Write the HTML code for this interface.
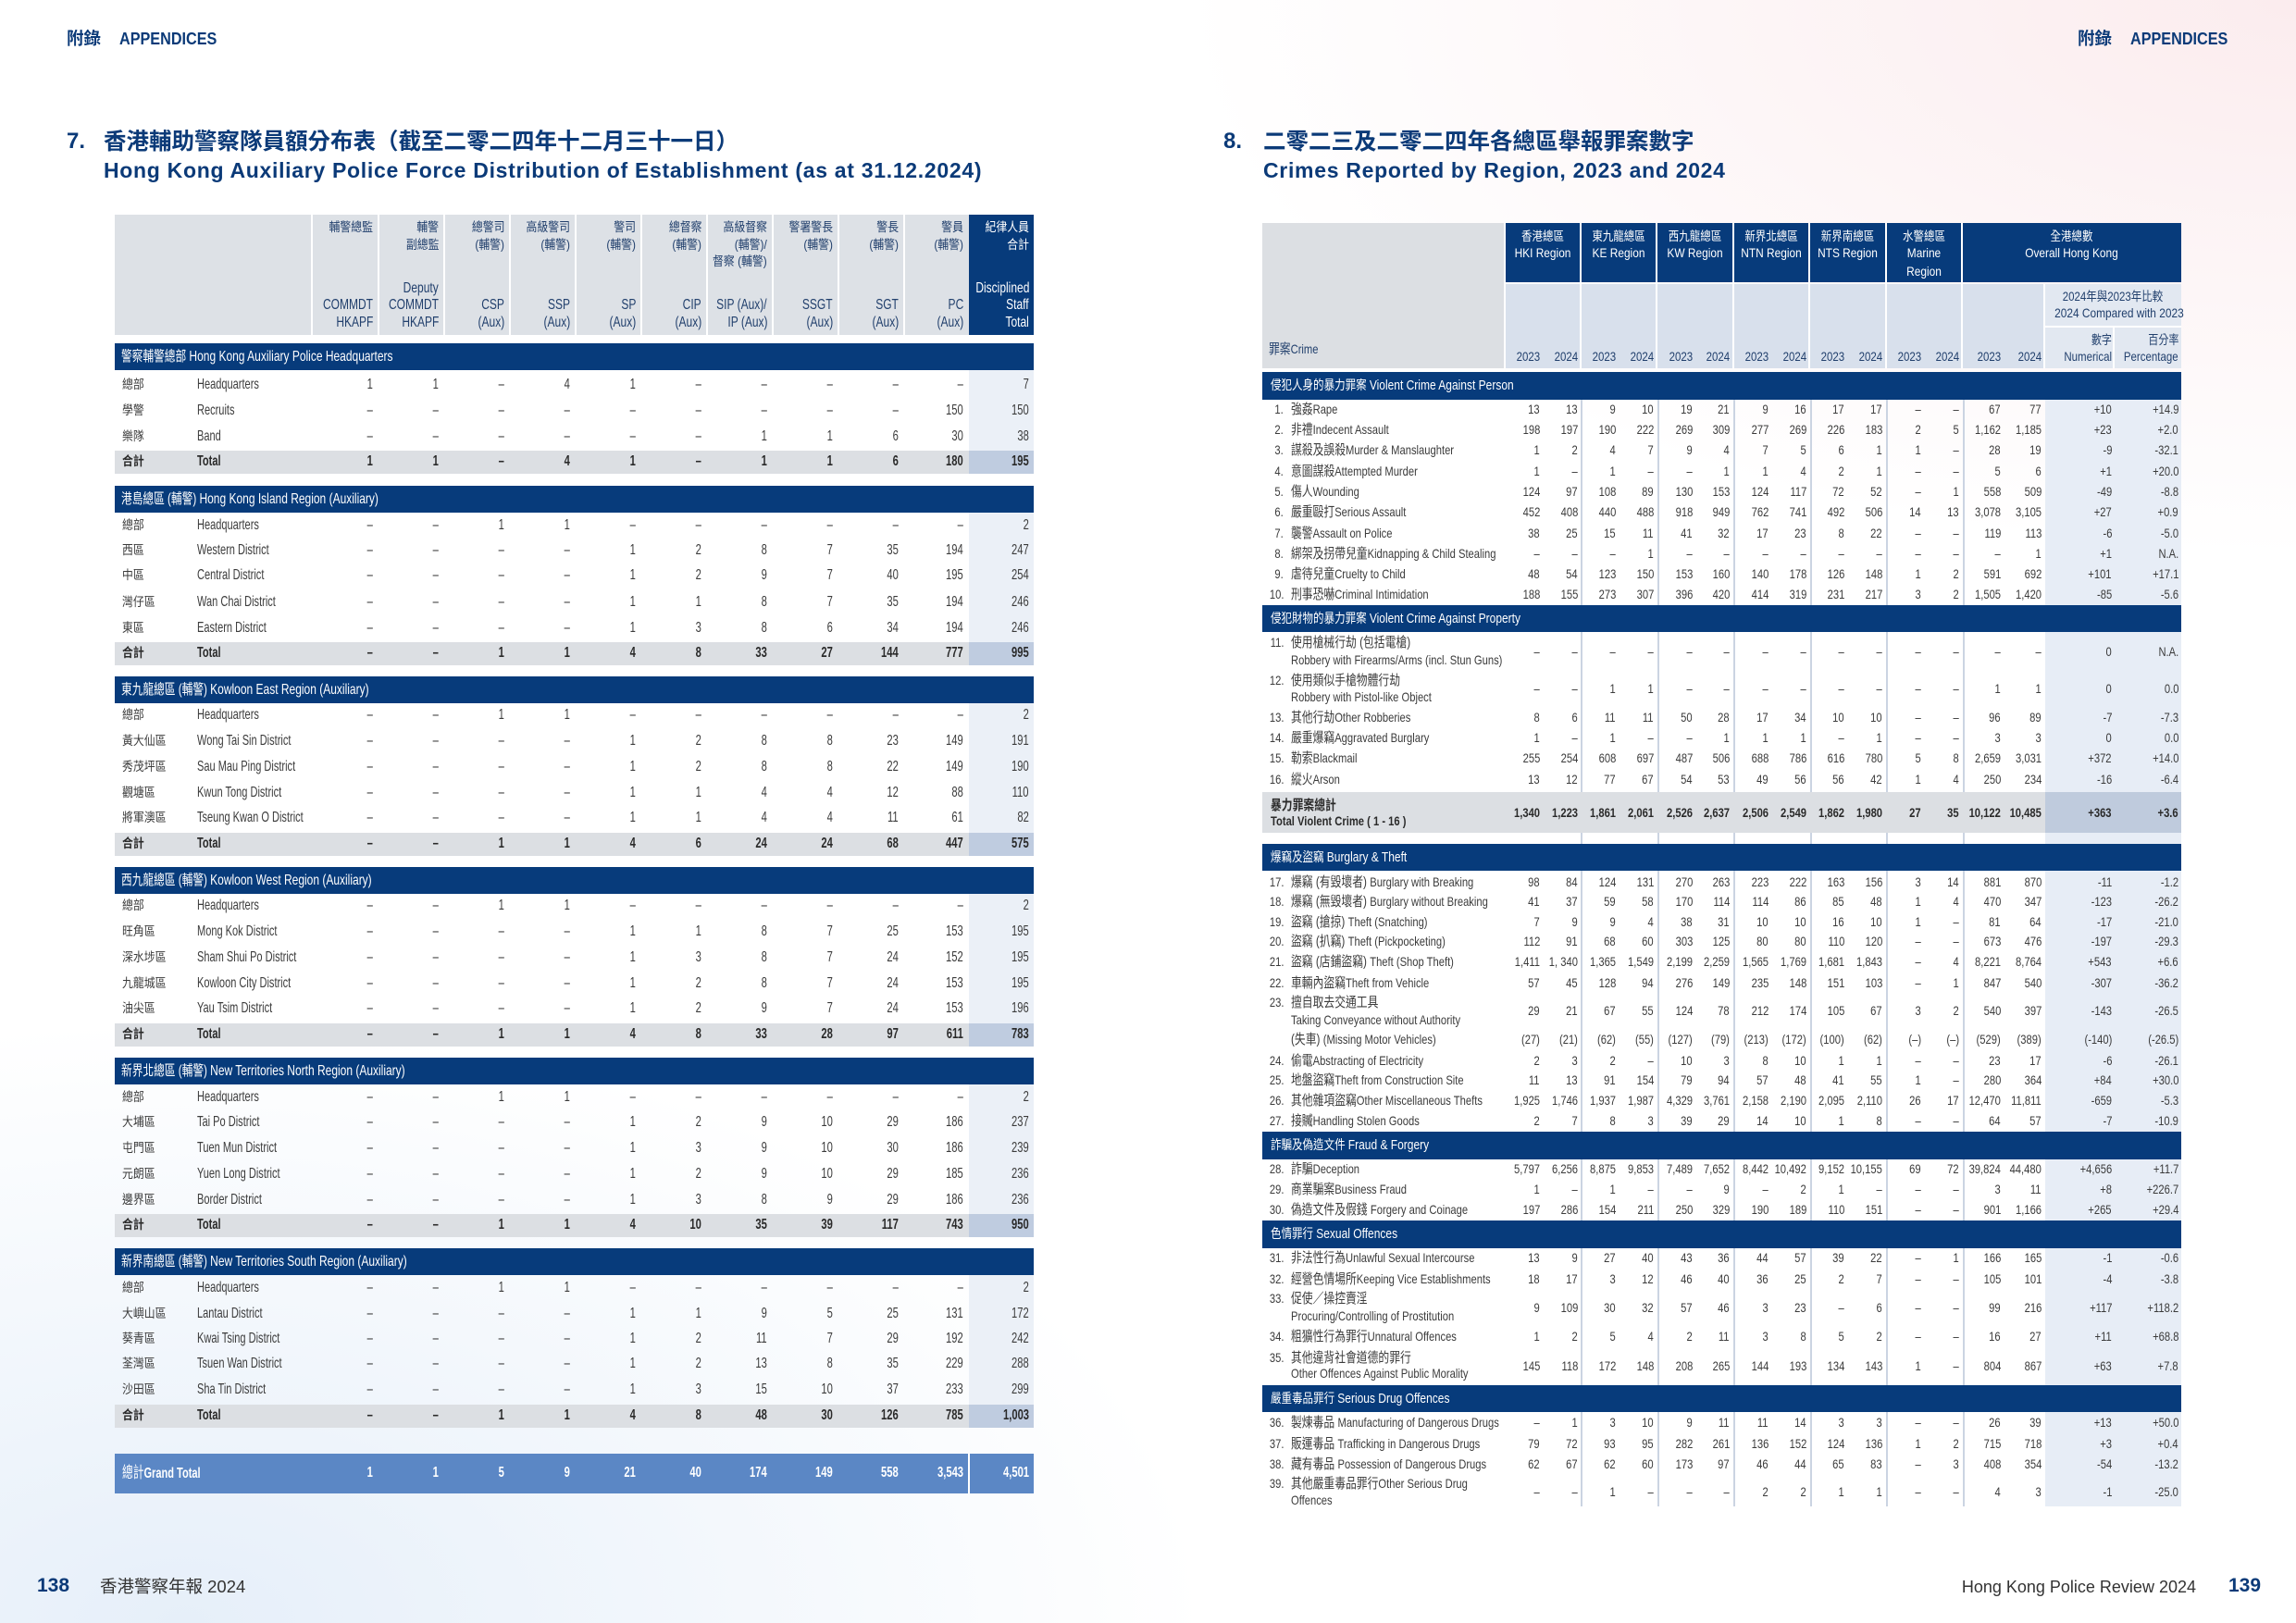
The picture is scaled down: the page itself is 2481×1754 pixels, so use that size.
<!DOCTYPE html>
<html><head><meta charset="utf-8"><style>
*{margin:0;padding:0;box-sizing:border-box}
html,body{width:2481px;height:1754px}
body{position:relative;overflow:hidden;font-family:"Liberation Sans","Noto Sans CJK TC",sans-serif;color:#3b3b3b;background:radial-gradient(ellipse 1100px 650px at 200px 1754px,#e6eff9,rgba(255,255,255,0)),radial-gradient(ellipse 1200px 600px at 2481px 0,#fbecee,rgba(255,255,255,0)),#fff}
.x{position:absolute}
.nv{background:#073b7b}
.r{position:absolute;left:0;width:2481px;height:20px;line-height:20px}
.r>*{position:absolute;top:0;white-space:nowrap}
i{font-style:normal}
.t>*{font-weight:700;color:#2a2a2a}
.n1{right:2078px}.n2{right:2007px}.n3{right:1936px}.n4{right:1865px}.n5{right:1794px}.n6{right:1723px}.n7{right:1652px}.n8{right:1581px}.n9{right:1510px}.n10{right:1440px}.n11{right:1369px}
.n1,.n2,.n3,.n4,.n5,.n6,.n7,.n8,.n9,.n10,.n11{font-size:16px;transform:scaleX(.7);transform-origin:100% 50%}
.m1{right:817px}.m2{right:776px}.m3{right:735px}.m4{right:694px}.m5{right:652px}.m6{right:612px}.m7{right:570px}.m8{right:529px}.m9{right:488px}.m10{right:447px}.m11{right:405px}.m12{right:364px}.m13{right:319px}.m14{right:275px}.m15{right:199px}.m16{right:127px}
.m1,.m2,.m3,.m4,.m5,.m6,.m7,.m8,.m9,.m10,.m11,.m12,.m13,.m14,.m15,.m16{font-size:14px;transform:scaleX(.8);transform-origin:100% 50%}
.hz{font-size:13.5px;transform:scaleX(.88);color:#22406d}
.he{font-size:16px;transform:scaleX(.75);color:#22406d}
.y{transform:scaleX(.82);color:#22406d}
.w{color:#fff}
.lz{left:132px;font-size:13.5px;transform:scaleX(.88);transform-origin:0 50%}
.le{left:213px;font-size:16px;transform:scaleX(.69);transform-origin:0 50%}
.bl{left:131px;color:#fff;font-size:16px;transform:scaleX(.75);transform-origin:0 50%}
.bl i{font-size:15.6px}
.br{left:1373px;color:#fff;font-size:15px;transform:scaleX(.8);transform-origin:0 50%}
.br i{font-size:14.4px}
.lb{left:1395px;font-size:14px;transform:scaleX(.8);transform-origin:0 50%}
.lb i{font-size:14.75px}
.no{right:1094px;font-size:14px;transform:scaleX(.8);transform-origin:100% 50%}
.hc{color:#fff;font-size:14px;text-align:center;transform:scaleX(.85);transform-origin:50% 50%}
.hc i{font-size:13.5px}
.hk{color:#22406d}
.g>*{color:#fff;font-weight:700}
.tt{position:absolute;white-space:nowrap;color:#0b3a78;font-weight:700;line-height:30px}
.ft{position:absolute;white-space:nowrap;line-height:24px}
</style></head><body>

<!-- page headers -->
<div class="ft" style="left:72px;top:30px;font-size:18.5px;font-weight:700;color:#0b3a78">附錄</div>
<div class="ft" style="left:129px;top:30px;font-size:18px;font-weight:700;color:#0b3a78;transform:scaleX(.9);transform-origin:0 50%">APPENDICES</div>
<div class="ft" style="left:2245px;top:30px;font-size:18.5px;font-weight:700;color:#0b3a78">附錄</div>
<div class="ft" style="left:2302px;top:30px;font-size:18px;font-weight:700;color:#0b3a78;transform:scaleX(.9);transform-origin:0 50%">APPENDICES</div>

<!-- titles -->
<div class="tt" style="left:72px;top:138px;font-size:24px">7.</div>
<div class="tt" style="left:112px;top:139px;font-size:24.5px">香港輔助警察隊員額分布表（截至二零二四年十二月三十一日）</div>
<div class="tt" style="left:112px;top:169px;font-size:23px;letter-spacing:.7px">Hong Kong Auxiliary Police Force Distribution of Establishment (as at 31.12.2024)</div>
<div class="tt" style="left:1322px;top:138px;font-size:24px">8.</div>
<div class="tt" style="left:1365px;top:139px;font-size:24.5px">二零二三及二零二四年各總區舉報罪案數字</div>
<div class="tt" style="left:1365px;top:169px;font-size:23px;letter-spacing:.7px">Crimes Reported by Region, 2023 and 2024</div>

<!-- LEFT TABLE BOXES -->
<div class="x" style="left:124px;top:232px;width:923px;height:130px;background:#dde1e6"></div>
<div class="x nv" style="left:1047px;top:232px;width:70px;height:130px"></div>
<div class="x" style="left:336px;top:232px;width:2px;height:130px;background:#fff"></div>
<div class="x" style="left:408px;top:232px;width:2px;height:130px;background:#fff"></div>
<div class="x" style="left:479px;top:232px;width:2px;height:130px;background:#fff"></div>
<div class="x" style="left:550px;top:232px;width:2px;height:130px;background:#fff"></div>
<div class="x" style="left:621px;top:232px;width:2px;height:130px;background:#fff"></div>
<div class="x" style="left:692px;top:232px;width:2px;height:130px;background:#fff"></div>
<div class="x" style="left:763px;top:232px;width:2px;height:130px;background:#fff"></div>
<div class="x" style="left:834px;top:232px;width:2px;height:130px;background:#fff"></div>
<div class="x" style="left:905px;top:232px;width:2px;height:130px;background:#fff"></div>
<div class="x" style="left:976px;top:232px;width:2px;height:130px;background:#fff"></div>

<div class="x nv" style="left:124px;top:371px;width:993px;height:29px"></div>
<div class="x" style="left:1047px;top:400px;width:70px;height:87px;background:#ebf0f7"></div>
<div class="x" style="left:124px;top:487px;width:923px;height:25px;background:#dcdfe3"></div>
<div class="x" style="left:1047px;top:487px;width:70px;height:25px;background:#bfcce0"></div>

<div class="x nv" style="left:124px;top:525px;width:993px;height:29px"></div>
<div class="x" style="left:1047px;top:554px;width:70px;height:140px;background:#ebf0f7"></div>
<div class="x" style="left:124px;top:694px;width:923px;height:25px;background:#dcdfe3"></div>
<div class="x" style="left:1047px;top:694px;width:70px;height:25px;background:#bfcce0"></div>

<div class="x nv" style="left:124px;top:731px;width:993px;height:29px"></div>
<div class="x" style="left:1047px;top:760px;width:70px;height:140px;background:#ebf0f7"></div>
<div class="x" style="left:124px;top:900px;width:923px;height:25px;background:#dcdfe3"></div>
<div class="x" style="left:1047px;top:900px;width:70px;height:25px;background:#bfcce0"></div>

<div class="x nv" style="left:124px;top:937px;width:993px;height:29px"></div>
<div class="x" style="left:1047px;top:966px;width:70px;height:140px;background:#ebf0f7"></div>
<div class="x" style="left:124px;top:1106px;width:923px;height:25px;background:#dcdfe3"></div>
<div class="x" style="left:1047px;top:1106px;width:70px;height:25px;background:#bfcce0"></div>

<div class="x nv" style="left:124px;top:1143px;width:993px;height:29px"></div>
<div class="x" style="left:1047px;top:1172px;width:70px;height:140px;background:#ebf0f7"></div>
<div class="x" style="left:124px;top:1312px;width:923px;height:25px;background:#dcdfe3"></div>
<div class="x" style="left:1047px;top:1312px;width:70px;height:25px;background:#bfcce0"></div>

<div class="x nv" style="left:124px;top:1349px;width:993px;height:29px"></div>
<div class="x" style="left:1047px;top:1378px;width:70px;height:140px;background:#ebf0f7"></div>
<div class="x" style="left:124px;top:1518px;width:923px;height:25px;background:#dcdfe3"></div>
<div class="x" style="left:1047px;top:1518px;width:70px;height:25px;background:#bfcce0"></div>

<div class="x" style="left:124px;top:1571px;width:993px;height:43px;background:#5b87c5"></div>
<div class="x" style="left:1046px;top:1571px;width:2px;height:43px;background:#fff"></div>

<!-- LEFT HEADER TEXT -->
<div class="r" style="top:236px"><span class="n1 hz">輔警總監</span><span class="n2 hz">輔警</span><span class="n3 hz">總警司</span><span class="n4 hz">高級警司</span><span class="n5 hz">警司</span><span class="n6 hz">總督察</span><span class="n7 hz">高級督察</span><span class="n8 hz">警署警長</span><span class="n9 hz">警長</span><span class="n10 hz">警員</span><span class="n11 hz w">紀律人員</span></div>
<div class="r" style="top:255px"><span class="n2 hz">副總監</span><span class="n3 hz">(輔警)</span><span class="n4 hz">(輔警)</span><span class="n5 hz">(輔警)</span><span class="n6 hz">(輔警)</span><span class="n7 hz">(輔警)/</span><span class="n8 hz">(輔警)</span><span class="n9 hz">(輔警)</span><span class="n10 hz">(輔警)</span><span class="n11 hz w">合計</span></div>
<div class="r" style="top:273px"><span class="n7 hz">督察 (輔警)</span></div>
<div class="r" style="top:302px"><span class="n2 he">Deputy</span><span class="n11 he w">Disciplined</span></div>
<div class="r" style="top:320px"><span class="n1 he">COMMDT</span><span class="n2 he">COMMDT</span><span class="n3 he">CSP</span><span class="n4 he">SSP</span><span class="n5 he">SP</span><span class="n6 he">CIP</span><span class="n7 he">SIP (Aux)/</span><span class="n8 he">SSGT</span><span class="n9 he">SGT</span><span class="n10 he">PC</span><span class="n11 he w">Staff</span></div>
<div class="r" style="top:339px"><span class="n1 he">HKAPF</span><span class="n2 he">HKAPF</span><span class="n3 he">(Aux)</span><span class="n4 he">(Aux)</span><span class="n5 he">(Aux)</span><span class="n6 he">(Aux)</span><span class="n7 he">IP (Aux)</span><span class="n8 he">(Aux)</span><span class="n9 he">(Aux)</span><span class="n10 he">(Aux)</span><span class="n11 he w">Total</span></div>

<!-- LEFT BODY -->
<div class="r" style="top:375.5px"><span class="bl"><i>警察輔警總部 </i>Hong Kong Auxiliary Police Headquarters</span></div>
<div class="r" style="top:406px"><span class="lz">總部</span><span class="le">Headquarters</span><span class="n1">1</span><span class="n2">1</span><span class="n3">–</span><span class="n4">4</span><span class="n5">1</span><span class="n6">–</span><span class="n7">–</span><span class="n8">–</span><span class="n9">–</span><span class="n10">–</span><span class="n11">7</span></div>
<div class="r" style="top:434px"><span class="lz">學警</span><span class="le">Recruits</span><span class="n1">–</span><span class="n2">–</span><span class="n3">–</span><span class="n4">–</span><span class="n5">–</span><span class="n6">–</span><span class="n7">–</span><span class="n8">–</span><span class="n9">–</span><span class="n10">150</span><span class="n11">150</span></div>
<div class="r" style="top:462px"><span class="lz">樂隊</span><span class="le">Band</span><span class="n1">–</span><span class="n2">–</span><span class="n3">–</span><span class="n4">–</span><span class="n5">–</span><span class="n6">–</span><span class="n7">1</span><span class="n8">1</span><span class="n9">6</span><span class="n10">30</span><span class="n11">38</span></div>
<div class="r t" style="top:489px"><span class="lz">合計</span><span class="le">Total</span><span class="n1">1</span><span class="n2">1</span><span class="n3">–</span><span class="n4">4</span><span class="n5">1</span><span class="n6">–</span><span class="n7">1</span><span class="n8">1</span><span class="n9">6</span><span class="n10">180</span><span class="n11">195</span></div>

<div class="r" style="top:529.5px"><span class="bl"><i>港島總區 (輔警) </i>Hong Kong Island Region (Auxiliary)</span></div>
<div class="r" style="top:558px"><span class="lz">總部</span><span class="le">Headquarters</span><span class="n1">–</span><span class="n2">–</span><span class="n3">1</span><span class="n4">1</span><span class="n5">–</span><span class="n6">–</span><span class="n7">–</span><span class="n8">–</span><span class="n9">–</span><span class="n10">–</span><span class="n11">2</span></div>
<div class="r" style="top:585px"><span class="lz">西區</span><span class="le">Western District</span><span class="n1">–</span><span class="n2">–</span><span class="n3">–</span><span class="n4">–</span><span class="n5">1</span><span class="n6">2</span><span class="n7">8</span><span class="n8">7</span><span class="n9">35</span><span class="n10">194</span><span class="n11">247</span></div>
<div class="r" style="top:612px"><span class="lz">中區</span><span class="le">Central District</span><span class="n1">–</span><span class="n2">–</span><span class="n3">–</span><span class="n4">–</span><span class="n5">1</span><span class="n6">2</span><span class="n7">9</span><span class="n8">7</span><span class="n9">40</span><span class="n10">195</span><span class="n11">254</span></div>
<div class="r" style="top:641px"><span class="lz">灣仔區</span><span class="le">Wan Chai District</span><span class="n1">–</span><span class="n2">–</span><span class="n3">–</span><span class="n4">–</span><span class="n5">1</span><span class="n6">1</span><span class="n7">8</span><span class="n8">7</span><span class="n9">35</span><span class="n10">194</span><span class="n11">246</span></div>
<div class="r" style="top:669px"><span class="lz">東區</span><span class="le">Eastern District</span><span class="n1">–</span><span class="n2">–</span><span class="n3">–</span><span class="n4">–</span><span class="n5">1</span><span class="n6">3</span><span class="n7">8</span><span class="n8">6</span><span class="n9">34</span><span class="n10">194</span><span class="n11">246</span></div>
<div class="r t" style="top:696px"><span class="lz">合計</span><span class="le">Total</span><span class="n1">–</span><span class="n2">–</span><span class="n3">1</span><span class="n4">1</span><span class="n5">4</span><span class="n6">8</span><span class="n7">33</span><span class="n8">27</span><span class="n9">144</span><span class="n10">777</span><span class="n11">995</span></div>

<div class="r" style="top:735.5px"><span class="bl"><i>東九龍總區 (輔警) </i>Kowloon East Region (Auxiliary)</span></div>
<div class="r" style="top:763px"><span class="lz">總部</span><span class="le">Headquarters</span><span class="n1">–</span><span class="n2">–</span><span class="n3">1</span><span class="n4">1</span><span class="n5">–</span><span class="n6">–</span><span class="n7">–</span><span class="n8">–</span><span class="n9">–</span><span class="n10">–</span><span class="n11">2</span></div>
<div class="r" style="top:791px"><span class="lz">黃大仙區</span><span class="le">Wong Tai Sin District</span><span class="n1">–</span><span class="n2">–</span><span class="n3">–</span><span class="n4">–</span><span class="n5">1</span><span class="n6">2</span><span class="n7">8</span><span class="n8">8</span><span class="n9">23</span><span class="n10">149</span><span class="n11">191</span></div>
<div class="r" style="top:819px"><span class="lz">秀茂坪區</span><span class="le">Sau Mau Ping District</span><span class="n1">–</span><span class="n2">–</span><span class="n3">–</span><span class="n4">–</span><span class="n5">1</span><span class="n6">2</span><span class="n7">8</span><span class="n8">8</span><span class="n9">22</span><span class="n10">149</span><span class="n11">190</span></div>
<div class="r" style="top:847px"><span class="lz">觀塘區</span><span class="le">Kwun Tong District</span><span class="n1">–</span><span class="n2">–</span><span class="n3">–</span><span class="n4">–</span><span class="n5">1</span><span class="n6">1</span><span class="n7">4</span><span class="n8">4</span><span class="n9">12</span><span class="n10">88</span><span class="n11">110</span></div>
<div class="r" style="top:874px"><span class="lz">將軍澳區</span><span class="le">Tseung Kwan O District</span><span class="n1">–</span><span class="n2">–</span><span class="n3">–</span><span class="n4">–</span><span class="n5">1</span><span class="n6">1</span><span class="n7">4</span><span class="n8">4</span><span class="n9">11</span><span class="n10">61</span><span class="n11">82</span></div>
<div class="r t" style="top:902px"><span class="lz">合計</span><span class="le">Total</span><span class="n1">–</span><span class="n2">–</span><span class="n3">1</span><span class="n4">1</span><span class="n5">4</span><span class="n6">6</span><span class="n7">24</span><span class="n8">24</span><span class="n9">68</span><span class="n10">447</span><span class="n11">575</span></div>

<div class="r" style="top:941.5px"><span class="bl"><i>西九龍總區 (輔警) </i>Kowloon West Region (Auxiliary)</span></div>
<div class="r" style="top:969px"><span class="lz">總部</span><span class="le">Headquarters</span><span class="n1">–</span><span class="n2">–</span><span class="n3">1</span><span class="n4">1</span><span class="n5">–</span><span class="n6">–</span><span class="n7">–</span><span class="n8">–</span><span class="n9">–</span><span class="n10">–</span><span class="n11">2</span></div>
<div class="r" style="top:997px"><span class="lz">旺角區</span><span class="le">Mong Kok District</span><span class="n1">–</span><span class="n2">–</span><span class="n3">–</span><span class="n4">–</span><span class="n5">1</span><span class="n6">1</span><span class="n7">8</span><span class="n8">7</span><span class="n9">25</span><span class="n10">153</span><span class="n11">195</span></div>
<div class="r" style="top:1025px"><span class="lz">深水埗區</span><span class="le">Sham Shui Po District</span><span class="n1">–</span><span class="n2">–</span><span class="n3">–</span><span class="n4">–</span><span class="n5">1</span><span class="n6">3</span><span class="n7">8</span><span class="n8">7</span><span class="n9">24</span><span class="n10">152</span><span class="n11">195</span></div>
<div class="r" style="top:1053px"><span class="lz">九龍城區</span><span class="le">Kowloon City District</span><span class="n1">–</span><span class="n2">–</span><span class="n3">–</span><span class="n4">–</span><span class="n5">1</span><span class="n6">2</span><span class="n7">8</span><span class="n8">7</span><span class="n9">24</span><span class="n10">153</span><span class="n11">195</span></div>
<div class="r" style="top:1080px"><span class="lz">油尖區</span><span class="le">Yau Tsim District</span><span class="n1">–</span><span class="n2">–</span><span class="n3">–</span><span class="n4">–</span><span class="n5">1</span><span class="n6">2</span><span class="n7">9</span><span class="n8">7</span><span class="n9">24</span><span class="n10">153</span><span class="n11">196</span></div>
<div class="r t" style="top:1108px"><span class="lz">合計</span><span class="le">Total</span><span class="n1">–</span><span class="n2">–</span><span class="n3">1</span><span class="n4">1</span><span class="n5">4</span><span class="n6">8</span><span class="n7">33</span><span class="n8">28</span><span class="n9">97</span><span class="n10">611</span><span class="n11">783</span></div>

<div class="r" style="top:1147.5px"><span class="bl"><i>新界北總區 (輔警) </i>New Territories North Region (Auxiliary)</span></div>
<div class="r" style="top:1176px"><span class="lz">總部</span><span class="le">Headquarters</span><span class="n1">–</span><span class="n2">–</span><span class="n3">1</span><span class="n4">1</span><span class="n5">–</span><span class="n6">–</span><span class="n7">–</span><span class="n8">–</span><span class="n9">–</span><span class="n10">–</span><span class="n11">2</span></div>
<div class="r" style="top:1203px"><span class="lz">大埔區</span><span class="le">Tai Po District</span><span class="n1">–</span><span class="n2">–</span><span class="n3">–</span><span class="n4">–</span><span class="n5">1</span><span class="n6">2</span><span class="n7">9</span><span class="n8">10</span><span class="n9">29</span><span class="n10">186</span><span class="n11">237</span></div>
<div class="r" style="top:1231px"><span class="lz">屯門區</span><span class="le">Tuen Mun District</span><span class="n1">–</span><span class="n2">–</span><span class="n3">–</span><span class="n4">–</span><span class="n5">1</span><span class="n6">3</span><span class="n7">9</span><span class="n8">10</span><span class="n9">30</span><span class="n10">186</span><span class="n11">239</span></div>
<div class="r" style="top:1259px"><span class="lz">元朗區</span><span class="le">Yuen Long District</span><span class="n1">–</span><span class="n2">–</span><span class="n3">–</span><span class="n4">–</span><span class="n5">1</span><span class="n6">2</span><span class="n7">9</span><span class="n8">10</span><span class="n9">29</span><span class="n10">185</span><span class="n11">236</span></div>
<div class="r" style="top:1287px"><span class="lz">邊界區</span><span class="le">Border District</span><span class="n1">–</span><span class="n2">–</span><span class="n3">–</span><span class="n4">–</span><span class="n5">1</span><span class="n6">3</span><span class="n7">8</span><span class="n8">9</span><span class="n9">29</span><span class="n10">186</span><span class="n11">236</span></div>
<div class="r t" style="top:1314px"><span class="lz">合計</span><span class="le">Total</span><span class="n1">–</span><span class="n2">–</span><span class="n3">1</span><span class="n4">1</span><span class="n5">4</span><span class="n6">10</span><span class="n7">35</span><span class="n8">39</span><span class="n9">117</span><span class="n10">743</span><span class="n11">950</span></div>

<div class="r" style="top:1353.5px"><span class="bl"><i>新界南總區 (輔警) </i>New Territories South Region (Auxiliary)</span></div>
<div class="r" style="top:1382px"><span class="lz">總部</span><span class="le">Headquarters</span><span class="n1">–</span><span class="n2">–</span><span class="n3">1</span><span class="n4">1</span><span class="n5">–</span><span class="n6">–</span><span class="n7">–</span><span class="n8">–</span><span class="n9">–</span><span class="n10">–</span><span class="n11">2</span></div>
<div class="r" style="top:1410px"><span class="lz">大嶼山區</span><span class="le">Lantau District</span><span class="n1">–</span><span class="n2">–</span><span class="n3">–</span><span class="n4">–</span><span class="n5">1</span><span class="n6">1</span><span class="n7">9</span><span class="n8">5</span><span class="n9">25</span><span class="n10">131</span><span class="n11">172</span></div>
<div class="r" style="top:1437px"><span class="lz">葵青區</span><span class="le">Kwai Tsing District</span><span class="n1">–</span><span class="n2">–</span><span class="n3">–</span><span class="n4">–</span><span class="n5">1</span><span class="n6">2</span><span class="n7">11</span><span class="n8">7</span><span class="n9">29</span><span class="n10">192</span><span class="n11">242</span></div>
<div class="r" style="top:1464px"><span class="lz">荃灣區</span><span class="le">Tsuen Wan District</span><span class="n1">–</span><span class="n2">–</span><span class="n3">–</span><span class="n4">–</span><span class="n5">1</span><span class="n6">2</span><span class="n7">13</span><span class="n8">8</span><span class="n9">35</span><span class="n10">229</span><span class="n11">288</span></div>
<div class="r" style="top:1492px"><span class="lz">沙田區</span><span class="le">Sha Tin District</span><span class="n1">–</span><span class="n2">–</span><span class="n3">–</span><span class="n4">–</span><span class="n5">1</span><span class="n6">3</span><span class="n7">15</span><span class="n8">10</span><span class="n9">37</span><span class="n10">233</span><span class="n11">299</span></div>
<div class="r t" style="top:1520px"><span class="lz">合計</span><span class="le">Total</span><span class="n1">–</span><span class="n2">–</span><span class="n3">1</span><span class="n4">1</span><span class="n5">4</span><span class="n6">8</span><span class="n7">48</span><span class="n8">30</span><span class="n9">126</span><span class="n10">785</span><span class="n11">1,003</span></div>

<div class="r g" style="top:1582px"><span class="le" style="left:132px"><i style="font-size:17px;font-weight:400">總計</i>Grand Total</span><span class="n1">1</span><span class="n2">1</span><span class="n3">5</span><span class="n4">9</span><span class="n5">21</span><span class="n6">40</span><span class="n7">174</span><span class="n8">149</span><span class="n9">558</span><span class="n10">3,543</span><span class="n11">4,501</span></div>

<!-- RIGHT TABLE BOXES -->
<div class="x" style="left:1364px;top:241px;width:262px;height:157px;background:#dcdfe3"></div>
<div class="x nv" style="left:1626px;top:241px;width:731px;height:64px"></div>
<div class="x" style="left:1626px;top:307px;width:731px;height:91px;background:#d8e0ec"></div>
<div class="x" style="left:2209px;top:307px;width:148px;height:91px;background:#e2e8f1"></div>
<div class="x" style="left:1625px;top:241px;width:2px;height:157px;background:#fff"></div>
<div class="x" style="left:1707px;top:241px;width:2px;height:157px;background:#fff"></div>
<div class="x" style="left:1789px;top:241px;width:2px;height:157px;background:#fff"></div>
<div class="x" style="left:1872px;top:241px;width:2px;height:157px;background:#fff"></div>
<div class="x" style="left:1954px;top:241px;width:2px;height:157px;background:#fff"></div>
<div class="x" style="left:2037px;top:241px;width:2px;height:157px;background:#fff"></div>
<div class="x" style="left:2119px;top:241px;width:2px;height:157px;background:#fff"></div>
<div class="x" style="left:2208px;top:307px;width:2px;height:91px;background:#fff"></div>
<div class="x" style="left:2283px;top:353px;width:2px;height:45px;background:#fff"></div>
<div class="x" style="left:2209px;top:352px;width:148px;height:2px;background:#fff"></div>

<div class="x" style="left:2210px;top:432px;width:147px;height:1196px;background:#e7edf6"></div>
<div class="x" style="left:1708px;top:432px;width:1.5px;height:1196px;background:#cbd4e2"></div>
<div class="x" style="left:1791px;top:432px;width:1.5px;height:1196px;background:#cbd4e2"></div>
<div class="x" style="left:1873px;top:432px;width:1.5px;height:1196px;background:#cbd4e2"></div>
<div class="x" style="left:1956px;top:432px;width:1.5px;height:1196px;background:#cbd4e2"></div>
<div class="x" style="left:2038px;top:432px;width:1.5px;height:1196px;background:#cbd4e2"></div>
<div class="x" style="left:2121px;top:432px;width:1.5px;height:1196px;background:#cbd4e2"></div>
<div class="x" style="left:1364px;top:856px;width:846px;height:44px;background:#dcdfe3"></div>
<div class="x" style="left:2210px;top:856px;width:147px;height:44px;background:#bfcbdd"></div>

<div class="x nv" style="left:1364px;top:402px;width:993px;height:30px"></div>
<div class="x nv" style="left:1364px;top:654px;width:993px;height:29px"></div>
<div class="x nv" style="left:1364px;top:912px;width:993px;height:29px"></div>
<div class="x nv" style="left:1364px;top:1223px;width:993px;height:30px"></div>
<div class="x nv" style="left:1364px;top:1319px;width:993px;height:30px"></div>
<div class="x nv" style="left:1364px;top:1497px;width:993px;height:29px"></div>

<!-- RIGHT HEADER TEXT -->
<div class="r" style="top:245px"><span class="hc" style="left:1626px;width:82px"><i>香港總區</i></span><span class="hc" style="left:1708px;width:82px"><i>東九龍總區</i></span><span class="hc" style="left:1790px;width:83px"><i>西九龍總區</i></span><span class="hc" style="left:1873px;width:82px"><i>新界北總區</i></span><span class="hc" style="left:1955px;width:83px"><i>新界南總區</i></span><span class="hc" style="left:2038px;width:82px"><i>水警總區</i></span><span class="hc" style="left:2120px;width:237px"><i>全港總數</i></span></div>
<div class="r" style="top:263px"><span class="hc" style="left:1626px;width:82px">HKI Region</span><span class="hc" style="left:1708px;width:82px">KE Region</span><span class="hc" style="left:1790px;width:83px">KW Region</span><span class="hc" style="left:1873px;width:82px">NTN Region</span><span class="hc" style="left:1955px;width:83px">NTS Region</span><span class="hc" style="left:2038px;width:82px">Marine</span><span class="hc" style="left:2120px;width:237px">Overall Hong Kong</span></div>
<div class="r" style="top:283px"><span class="hc" style="left:2038px;width:82px">Region</span></div>
<div class="r" style="top:310px"><span class="hc hk" style="left:2209px;width:148px"><i>2024年與2023年比較</i></span></div>
<div class="r" style="top:328px"><span class="hc hk" style="left:2209px;width:148px">2024 Compared with 2023</span></div>
<div class="r" style="top:357px"><span class="m15 y"><i style="font-size:13.5px">數字</i></span><span class="m16 y"><i style="font-size:13.5px">百分率</i></span></div>
<div class="r" style="top:367px"><span class="lb hk" style="left:1371px"><i>罪案</i>Crime</span></div>
<div class="r" style="top:375px"><span class="m1 y">2023</span><span class="m2 y">2024</span><span class="m3 y">2023</span><span class="m4 y">2024</span><span class="m5 y">2023</span><span class="m6 y">2024</span><span class="m7 y">2023</span><span class="m8 y">2024</span><span class="m9 y">2023</span><span class="m10 y">2024</span><span class="m11 y">2023</span><span class="m12 y">2024</span><span class="m13 y">2023</span><span class="m14 y">2024</span><span class="m15 y">Numerical</span><span class="m16 y">Percentage</span></div>

<!-- RIGHT BODY -->
<div class="r" style="top:407px"><span class="br"><i>侵犯人身的暴力罪案 </i>Violent Crime Against Person</span></div>
<div class="r" style="top:432px"><span class="no">1.</span><span class="lb"><i>強姦</i>Rape</span><span class="m1">13</span><span class="m2">13</span><span class="m3">9</span><span class="m4">10</span><span class="m5">19</span><span class="m6">21</span><span class="m7">9</span><span class="m8">16</span><span class="m9">17</span><span class="m10">17</span><span class="m11">–</span><span class="m12">–</span><span class="m13">67</span><span class="m14">77</span><span class="m15">+10</span><span class="m16">+14.9</span></div>
<div class="r" style="top:454px"><span class="no">2.</span><span class="lb"><i>非禮</i>Indecent Assault</span><span class="m1">198</span><span class="m2">197</span><span class="m3">190</span><span class="m4">222</span><span class="m5">269</span><span class="m6">309</span><span class="m7">277</span><span class="m8">269</span><span class="m9">226</span><span class="m10">183</span><span class="m11">2</span><span class="m12">5</span><span class="m13">1,162</span><span class="m14">1,185</span><span class="m15">+23</span><span class="m16">+2.0</span></div>
<div class="r" style="top:476px"><span class="no">3.</span><span class="lb"><i>謀殺及誤殺</i>Murder &amp; Manslaughter</span><span class="m1">1</span><span class="m2">2</span><span class="m3">4</span><span class="m4">7</span><span class="m5">9</span><span class="m6">4</span><span class="m7">7</span><span class="m8">5</span><span class="m9">6</span><span class="m10">1</span><span class="m11">1</span><span class="m12">–</span><span class="m13">28</span><span class="m14">19</span><span class="m15">-9</span><span class="m16">-32.1</span></div>
<div class="r" style="top:499px"><span class="no">4.</span><span class="lb"><i>意圖謀殺</i>Attempted Murder</span><span class="m1">1</span><span class="m2">–</span><span class="m3">1</span><span class="m4">–</span><span class="m5">–</span><span class="m6">1</span><span class="m7">1</span><span class="m8">4</span><span class="m9">2</span><span class="m10">1</span><span class="m11">–</span><span class="m12">–</span><span class="m13">5</span><span class="m14">6</span><span class="m15">+1</span><span class="m16">+20.0</span></div>
<div class="r" style="top:521px"><span class="no">5.</span><span class="lb"><i>傷人</i>Wounding</span><span class="m1">124</span><span class="m2">97</span><span class="m3">108</span><span class="m4">89</span><span class="m5">130</span><span class="m6">153</span><span class="m7">124</span><span class="m8">117</span><span class="m9">72</span><span class="m10">52</span><span class="m11">–</span><span class="m12">1</span><span class="m13">558</span><span class="m14">509</span><span class="m15">-49</span><span class="m16">-8.8</span></div>
<div class="r" style="top:543px"><span class="no">6.</span><span class="lb"><i>嚴重毆打</i>Serious Assault</span><span class="m1">452</span><span class="m2">408</span><span class="m3">440</span><span class="m4">488</span><span class="m5">918</span><span class="m6">949</span><span class="m7">762</span><span class="m8">741</span><span class="m9">492</span><span class="m10">506</span><span class="m11">14</span><span class="m12">13</span><span class="m13">3,078</span><span class="m14">3,105</span><span class="m15">+27</span><span class="m16">+0.9</span></div>
<div class="r" style="top:566px"><span class="no">7.</span><span class="lb"><i>襲警</i>Assault on Police</span><span class="m1">38</span><span class="m2">25</span><span class="m3">15</span><span class="m4">11</span><span class="m5">41</span><span class="m6">32</span><span class="m7">17</span><span class="m8">23</span><span class="m9">8</span><span class="m10">22</span><span class="m11">–</span><span class="m12">–</span><span class="m13">119</span><span class="m14">113</span><span class="m15">-6</span><span class="m16">-5.0</span></div>
<div class="r" style="top:588px"><span class="no">8.</span><span class="lb"><i>綁架及拐帶兒童</i>Kidnapping &amp; Child Stealing</span><span class="m1">–</span><span class="m2">–</span><span class="m3">–</span><span class="m4">1</span><span class="m5">–</span><span class="m6">–</span><span class="m7">–</span><span class="m8">–</span><span class="m9">–</span><span class="m10">–</span><span class="m11">–</span><span class="m12">–</span><span class="m13">–</span><span class="m14">1</span><span class="m15">+1</span><span class="m16">N.A.</span></div>
<div class="r" style="top:610px"><span class="no">9.</span><span class="lb"><i>虐待兒童</i>Cruelty to Child</span><span class="m1">48</span><span class="m2">54</span><span class="m3">123</span><span class="m4">150</span><span class="m5">153</span><span class="m6">160</span><span class="m7">140</span><span class="m8">178</span><span class="m9">126</span><span class="m10">148</span><span class="m11">1</span><span class="m12">2</span><span class="m13">591</span><span class="m14">692</span><span class="m15">+101</span><span class="m16">+17.1</span></div>
<div class="r" style="top:632px"><span class="no">10.</span><span class="lb"><i>刑事恐嚇</i>Criminal Intimidation</span><span class="m1">188</span><span class="m2">155</span><span class="m3">273</span><span class="m4">307</span><span class="m5">396</span><span class="m6">420</span><span class="m7">414</span><span class="m8">319</span><span class="m9">231</span><span class="m10">217</span><span class="m11">3</span><span class="m12">2</span><span class="m13">1,505</span><span class="m14">1,420</span><span class="m15">-85</span><span class="m16">-5.6</span></div>

<div class="r" style="top:658.5px"><span class="br"><i>侵犯財物的暴力罪案 </i>Violent Crime Against Property</span></div>
<div class="r" style="top:684px"><span class="no">11.</span><span class="lb"><i>使用槍械行劫 (包括電槍)</i></span></div>
<div class="r" style="top:703px"><span class="lb">Robbery with Firearms/Arms (incl. Stun Guns)</span></div>
<div class="r" style="top:693.5px"><span class="m1">–</span><span class="m2">–</span><span class="m3">–</span><span class="m4">–</span><span class="m5">–</span><span class="m6">–</span><span class="m7">–</span><span class="m8">–</span><span class="m9">–</span><span class="m10">–</span><span class="m11">–</span><span class="m12">–</span><span class="m13">–</span><span class="m14">–</span><span class="m15">0</span><span class="m16">N.A.</span></div>
<div class="r" style="top:725px"><span class="no">12.</span><span class="lb"><i>使用類似手槍物體行劫</i></span></div>
<div class="r" style="top:743px"><span class="lb">Robbery with Pistol-like Object</span></div>
<div class="r" style="top:734px"><span class="m1">–</span><span class="m2">–</span><span class="m3">1</span><span class="m4">1</span><span class="m5">–</span><span class="m6">–</span><span class="m7">–</span><span class="m8">–</span><span class="m9">–</span><span class="m10">–</span><span class="m11">–</span><span class="m12">–</span><span class="m13">1</span><span class="m14">1</span><span class="m15">0</span><span class="m16">0.0</span></div>
<div class="r" style="top:765px"><span class="no">13.</span><span class="lb"><i>其他行劫</i>Other Robberies</span><span class="m1">8</span><span class="m2">6</span><span class="m3">11</span><span class="m4">11</span><span class="m5">50</span><span class="m6">28</span><span class="m7">17</span><span class="m8">34</span><span class="m9">10</span><span class="m10">10</span><span class="m11">–</span><span class="m12">–</span><span class="m13">96</span><span class="m14">89</span><span class="m15">-7</span><span class="m16">-7.3</span></div>
<div class="r" style="top:787px"><span class="no">14.</span><span class="lb"><i>嚴重爆竊</i>Aggravated Burglary</span><span class="m1">1</span><span class="m2">–</span><span class="m3">1</span><span class="m4">–</span><span class="m5">–</span><span class="m6">1</span><span class="m7">1</span><span class="m8">1</span><span class="m9">–</span><span class="m10">1</span><span class="m11">–</span><span class="m12">–</span><span class="m13">3</span><span class="m14">3</span><span class="m15">0</span><span class="m16">0.0</span></div>
<div class="r" style="top:809px"><span class="no">15.</span><span class="lb"><i>勒索</i>Blackmail</span><span class="m1">255</span><span class="m2">254</span><span class="m3">608</span><span class="m4">697</span><span class="m5">487</span><span class="m6">506</span><span class="m7">688</span><span class="m8">786</span><span class="m9">616</span><span class="m10">780</span><span class="m11">5</span><span class="m12">8</span><span class="m13">2,659</span><span class="m14">3,031</span><span class="m15">+372</span><span class="m16">+14.0</span></div>
<div class="r" style="top:832px"><span class="no">16.</span><span class="lb"><i>縱火</i>Arson</span><span class="m1">13</span><span class="m2">12</span><span class="m3">77</span><span class="m4">67</span><span class="m5">54</span><span class="m6">53</span><span class="m7">49</span><span class="m8">56</span><span class="m9">56</span><span class="m10">42</span><span class="m11">1</span><span class="m12">4</span><span class="m13">250</span><span class="m14">234</span><span class="m15">-16</span><span class="m16">-6.4</span></div>
<div class="r t" style="top:860px"><span class="lb" style="left:1373px"><i>暴力罪案總計</i></span></div>
<div class="r t" style="top:877px"><span class="lb" style="left:1373px">Total Violent Crime ( 1 - 16 )</span></div>
<div class="r t" style="top:868px"><span class="m1">1,340</span><span class="m2">1,223</span><span class="m3">1,861</span><span class="m4">2,061</span><span class="m5">2,526</span><span class="m6">2,637</span><span class="m7">2,506</span><span class="m8">2,549</span><span class="m9">1,862</span><span class="m10">1,980</span><span class="m11">27</span><span class="m12">35</span><span class="m13">10,122</span><span class="m14">10,485</span><span class="m15">+363</span><span class="m16">+3.6</span></div>

<div class="r" style="top:916.5px"><span class="br"><i>爆竊及盜竊 </i>Burglary &amp; Theft</span></div>
<div class="r" style="top:943px"><span class="no">17.</span><span class="lb"><i>爆竊 (有毀壞者) </i>Burglary with Breaking</span><span class="m1">98</span><span class="m2">84</span><span class="m3">124</span><span class="m4">131</span><span class="m5">270</span><span class="m6">263</span><span class="m7">223</span><span class="m8">222</span><span class="m9">163</span><span class="m10">156</span><span class="m11">3</span><span class="m12">14</span><span class="m13">881</span><span class="m14">870</span><span class="m15">-11</span><span class="m16">-1.2</span></div>
<div class="r" style="top:964px"><span class="no">18.</span><span class="lb"><i>爆竊 (無毀壞者) </i>Burglary without Breaking</span><span class="m1">41</span><span class="m2">37</span><span class="m3">59</span><span class="m4">58</span><span class="m5">170</span><span class="m6">114</span><span class="m7">114</span><span class="m8">86</span><span class="m9">85</span><span class="m10">48</span><span class="m11">1</span><span class="m12">4</span><span class="m13">470</span><span class="m14">347</span><span class="m15">-123</span><span class="m16">-26.2</span></div>
<div class="r" style="top:986px"><span class="no">19.</span><span class="lb"><i>盜竊 (搶掠) </i>Theft (Snatching)</span><span class="m1">7</span><span class="m2">9</span><span class="m3">9</span><span class="m4">4</span><span class="m5">38</span><span class="m6">31</span><span class="m7">10</span><span class="m8">10</span><span class="m9">16</span><span class="m10">10</span><span class="m11">1</span><span class="m12">–</span><span class="m13">81</span><span class="m14">64</span><span class="m15">-17</span><span class="m16">-21.0</span></div>
<div class="r" style="top:1007px"><span class="no">20.</span><span class="lb"><i>盜竊 (扒竊) </i>Theft (Pickpocketing)</span><span class="m1">112</span><span class="m2">91</span><span class="m3">68</span><span class="m4">60</span><span class="m5">303</span><span class="m6">125</span><span class="m7">80</span><span class="m8">80</span><span class="m9">110</span><span class="m10">120</span><span class="m11">–</span><span class="m12">–</span><span class="m13">673</span><span class="m14">476</span><span class="m15">-197</span><span class="m16">-29.3</span></div>
<div class="r" style="top:1029px"><span class="no">21.</span><span class="lb"><i>盜竊 (店鋪盜竊) </i>Theft (Shop Theft)</span><span class="m1">1,411</span><span class="m2">1, 340</span><span class="m3">1,365</span><span class="m4">1,549</span><span class="m5">2,199</span><span class="m6">2,259</span><span class="m7">1,565</span><span class="m8">1,769</span><span class="m9">1,681</span><span class="m10">1,843</span><span class="m11">–</span><span class="m12">4</span><span class="m13">8,221</span><span class="m14">8,764</span><span class="m15">+543</span><span class="m16">+6.6</span></div>
<div class="r" style="top:1052px"><span class="no">22.</span><span class="lb"><i>車輛內盜竊</i>Theft from Vehicle</span><span class="m1">57</span><span class="m2">45</span><span class="m3">128</span><span class="m4">94</span><span class="m5">276</span><span class="m6">149</span><span class="m7">235</span><span class="m8">148</span><span class="m9">151</span><span class="m10">103</span><span class="m11">–</span><span class="m12">1</span><span class="m13">847</span><span class="m14">540</span><span class="m15">-307</span><span class="m16">-36.2</span></div>
<div class="r" style="top:1073px"><span class="no">23.</span><span class="lb"><i>擅自取去交通工具</i></span></div>
<div class="r" style="top:1092px"><span class="lb">Taking Conveyance without Authority</span></div>
<div class="r" style="top:1082px"><span class="m1">29</span><span class="m2">21</span><span class="m3">67</span><span class="m4">55</span><span class="m5">124</span><span class="m6">78</span><span class="m7">212</span><span class="m8">174</span><span class="m9">105</span><span class="m10">67</span><span class="m11">3</span><span class="m12">2</span><span class="m13">540</span><span class="m14">397</span><span class="m15">-143</span><span class="m16">-26.5</span></div>
<div class="r" style="top:1113px"><span class="lb"><i>(失車) </i>(Missing Motor Vehicles)</span><span class="m1">(27)</span><span class="m2">(21)</span><span class="m3">(62)</span><span class="m4">(55)</span><span class="m5">(127)</span><span class="m6">(79)</span><span class="m7">(213)</span><span class="m8">(172)</span><span class="m9">(100)</span><span class="m10">(62)</span><span class="m11">(–)</span><span class="m12">(–)</span><span class="m13">(529)</span><span class="m14">(389)</span><span class="m15">(-140)</span><span class="m16">(-26.5)</span></div>
<div class="r" style="top:1136px"><span class="no">24.</span><span class="lb"><i>偷電</i>Abstracting of Electricity</span><span class="m1">2</span><span class="m2">3</span><span class="m3">2</span><span class="m4">–</span><span class="m5">10</span><span class="m6">3</span><span class="m7">8</span><span class="m8">10</span><span class="m9">1</span><span class="m10">1</span><span class="m11">–</span><span class="m12">–</span><span class="m13">23</span><span class="m14">17</span><span class="m15">-6</span><span class="m16">-26.1</span></div>
<div class="r" style="top:1157px"><span class="no">25.</span><span class="lb"><i>地盤盜竊</i>Theft from Construction Site</span><span class="m1">11</span><span class="m2">13</span><span class="m3">91</span><span class="m4">154</span><span class="m5">79</span><span class="m6">94</span><span class="m7">57</span><span class="m8">48</span><span class="m9">41</span><span class="m10">55</span><span class="m11">1</span><span class="m12">–</span><span class="m13">280</span><span class="m14">364</span><span class="m15">+84</span><span class="m16">+30.0</span></div>
<div class="r" style="top:1179px"><span class="no">26.</span><span class="lb"><i>其他雜項盜竊</i>Other Miscellaneous Thefts</span><span class="m1">1,925</span><span class="m2">1,746</span><span class="m3">1,937</span><span class="m4">1,987</span><span class="m5">4,329</span><span class="m6">3,761</span><span class="m7">2,158</span><span class="m8">2,190</span><span class="m9">2,095</span><span class="m10">2,110</span><span class="m11">26</span><span class="m12">17</span><span class="m13">12,470</span><span class="m14">11,811</span><span class="m15">-659</span><span class="m16">-5.3</span></div>
<div class="r" style="top:1201px"><span class="no">27.</span><span class="lb"><i>接贓</i>Handling Stolen Goods</span><span class="m1">2</span><span class="m2">7</span><span class="m3">8</span><span class="m4">3</span><span class="m5">39</span><span class="m6">29</span><span class="m7">14</span><span class="m8">10</span><span class="m9">1</span><span class="m10">8</span><span class="m11">–</span><span class="m12">–</span><span class="m13">64</span><span class="m14">57</span><span class="m15">-7</span><span class="m16">-10.9</span></div>

<div class="r" style="top:1228px"><span class="br"><i>詐騙及偽造文件 </i>Fraud &amp; Forgery</span></div>
<div class="r" style="top:1253px"><span class="no">28.</span><span class="lb"><i>詐騙</i>Deception</span><span class="m1">5,797</span><span class="m2">6,256</span><span class="m3">8,875</span><span class="m4">9,853</span><span class="m5">7,489</span><span class="m6">7,652</span><span class="m7">8,442</span><span class="m8">10,492</span><span class="m9">9,152</span><span class="m10">10,155</span><span class="m11">69</span><span class="m12">72</span><span class="m13">39,824</span><span class="m14">44,480</span><span class="m15">+4,656</span><span class="m16">+11.7</span></div>
<div class="r" style="top:1275px"><span class="no">29.</span><span class="lb"><i>商業騙案</i>Business Fraud</span><span class="m1">1</span><span class="m2">–</span><span class="m3">1</span><span class="m4">–</span><span class="m5">–</span><span class="m6">9</span><span class="m7">–</span><span class="m8">2</span><span class="m9">1</span><span class="m10">–</span><span class="m11">–</span><span class="m12">–</span><span class="m13">3</span><span class="m14">11</span><span class="m15">+8</span><span class="m16">+226.7</span></div>
<div class="r" style="top:1297px"><span class="no">30.</span><span class="lb"><i>偽造文件及假錢 </i>Forgery and Coinage</span><span class="m1">197</span><span class="m2">286</span><span class="m3">154</span><span class="m4">211</span><span class="m5">250</span><span class="m6">329</span><span class="m7">190</span><span class="m8">189</span><span class="m9">110</span><span class="m10">151</span><span class="m11">–</span><span class="m12">–</span><span class="m13">901</span><span class="m14">1,166</span><span class="m15">+265</span><span class="m16">+29.4</span></div>

<div class="r" style="top:1324px"><span class="br"><i>色情罪行 </i>Sexual Offences</span></div>
<div class="r" style="top:1349px"><span class="no">31.</span><span class="lb"><i>非法性行為</i>Unlawful Sexual Intercourse</span><span class="m1">13</span><span class="m2">9</span><span class="m3">27</span><span class="m4">40</span><span class="m5">43</span><span class="m6">36</span><span class="m7">44</span><span class="m8">57</span><span class="m9">39</span><span class="m10">22</span><span class="m11">–</span><span class="m12">1</span><span class="m13">166</span><span class="m14">165</span><span class="m15">-1</span><span class="m16">-0.6</span></div>
<div class="r" style="top:1372px"><span class="no">32.</span><span class="lb"><i>經營色情場所</i>Keeping Vice Establishments</span><span class="m1">18</span><span class="m2">17</span><span class="m3">3</span><span class="m4">12</span><span class="m5">46</span><span class="m6">40</span><span class="m7">36</span><span class="m8">25</span><span class="m9">2</span><span class="m10">7</span><span class="m11">–</span><span class="m12">–</span><span class="m13">105</span><span class="m14">101</span><span class="m15">-4</span><span class="m16">-3.8</span></div>
<div class="r" style="top:1393px"><span class="no">33.</span><span class="lb"><i>促使／操控賣淫</i></span></div>
<div class="r" style="top:1412px"><span class="lb">Procuring/Controlling of Prostitution</span></div>
<div class="r" style="top:1403px"><span class="m1">9</span><span class="m2">109</span><span class="m3">30</span><span class="m4">32</span><span class="m5">57</span><span class="m6">46</span><span class="m7">3</span><span class="m8">23</span><span class="m9">–</span><span class="m10">6</span><span class="m11">–</span><span class="m12">–</span><span class="m13">99</span><span class="m14">216</span><span class="m15">+117</span><span class="m16">+118.2</span></div>
<div class="r" style="top:1434px"><span class="no">34.</span><span class="lb"><i>粗獷性行為罪行</i>Unnatural Offences</span><span class="m1">1</span><span class="m2">2</span><span class="m3">5</span><span class="m4">4</span><span class="m5">2</span><span class="m6">11</span><span class="m7">3</span><span class="m8">8</span><span class="m9">5</span><span class="m10">2</span><span class="m11">–</span><span class="m12">–</span><span class="m13">16</span><span class="m14">27</span><span class="m15">+11</span><span class="m16">+68.8</span></div>
<div class="r" style="top:1457px"><span class="no">35.</span><span class="lb"><i>其他違背社會道德的罪行</i></span></div>
<div class="r" style="top:1474px"><span class="lb">Other Offences Against Public Morality</span></div>
<div class="r" style="top:1466px"><span class="m1">145</span><span class="m2">118</span><span class="m3">172</span><span class="m4">148</span><span class="m5">208</span><span class="m6">265</span><span class="m7">144</span><span class="m8">193</span><span class="m9">134</span><span class="m10">143</span><span class="m11">1</span><span class="m12">–</span><span class="m13">804</span><span class="m14">867</span><span class="m15">+63</span><span class="m16">+7.8</span></div>

<div class="r" style="top:1501.5px"><span class="br"><i>嚴重毒品罪行 </i>Serious Drug Offences</span></div>
<div class="r" style="top:1527px"><span class="no">36.</span><span class="lb"><i>製煉毒品 </i>Manufacturing of Dangerous Drugs</span><span class="m1">–</span><span class="m2">1</span><span class="m3">3</span><span class="m4">10</span><span class="m5">9</span><span class="m6">11</span><span class="m7">11</span><span class="m8">14</span><span class="m9">3</span><span class="m10">3</span><span class="m11">–</span><span class="m12">–</span><span class="m13">26</span><span class="m14">39</span><span class="m15">+13</span><span class="m16">+50.0</span></div>
<div class="r" style="top:1550px"><span class="no">37.</span><span class="lb"><i>販運毒品 </i>Trafficking in Dangerous Drugs</span><span class="m1">79</span><span class="m2">72</span><span class="m3">93</span><span class="m4">95</span><span class="m5">282</span><span class="m6">261</span><span class="m7">136</span><span class="m8">152</span><span class="m9">124</span><span class="m10">136</span><span class="m11">1</span><span class="m12">2</span><span class="m13">715</span><span class="m14">718</span><span class="m15">+3</span><span class="m16">+0.4</span></div>
<div class="r" style="top:1572px"><span class="no">38.</span><span class="lb"><i>藏有毒品 </i>Possession of Dangerous Drugs</span><span class="m1">62</span><span class="m2">67</span><span class="m3">62</span><span class="m4">60</span><span class="m5">173</span><span class="m6">97</span><span class="m7">46</span><span class="m8">44</span><span class="m9">65</span><span class="m10">83</span><span class="m11">–</span><span class="m12">3</span><span class="m13">408</span><span class="m14">354</span><span class="m15">-54</span><span class="m16">-13.2</span></div>
<div class="r" style="top:1593px"><span class="no">39.</span><span class="lb"><i>其他嚴重毒品罪行</i>Other Serious Drug</span></div>
<div class="r" style="top:1611px"><span class="lb">Offences</span></div>
<div class="r" style="top:1602px"><span class="m1">–</span><span class="m2">–</span><span class="m3">1</span><span class="m4">–</span><span class="m5">–</span><span class="m6">–</span><span class="m7">2</span><span class="m8">2</span><span class="m9">1</span><span class="m10">1</span><span class="m11">–</span><span class="m12">–</span><span class="m13">4</span><span class="m14">3</span><span class="m15">-1</span><span class="m16">-25.0</span></div>

<!-- footers -->
<div class="ft" style="left:40px;top:1702px;font-size:21px;font-weight:700;color:#0b3a78">138</div>
<div class="ft" style="left:108px;top:1703px;font-size:18.5px;color:#333">香港警察年報 2024</div>
<div class="ft" style="right:108px;top:1703px;font-size:18px;color:#333">Hong Kong Police Review 2024</div>
<div class="ft" style="left:2408px;top:1702px;font-size:21px;font-weight:700;color:#0b3a78">139</div>
</body></html>
